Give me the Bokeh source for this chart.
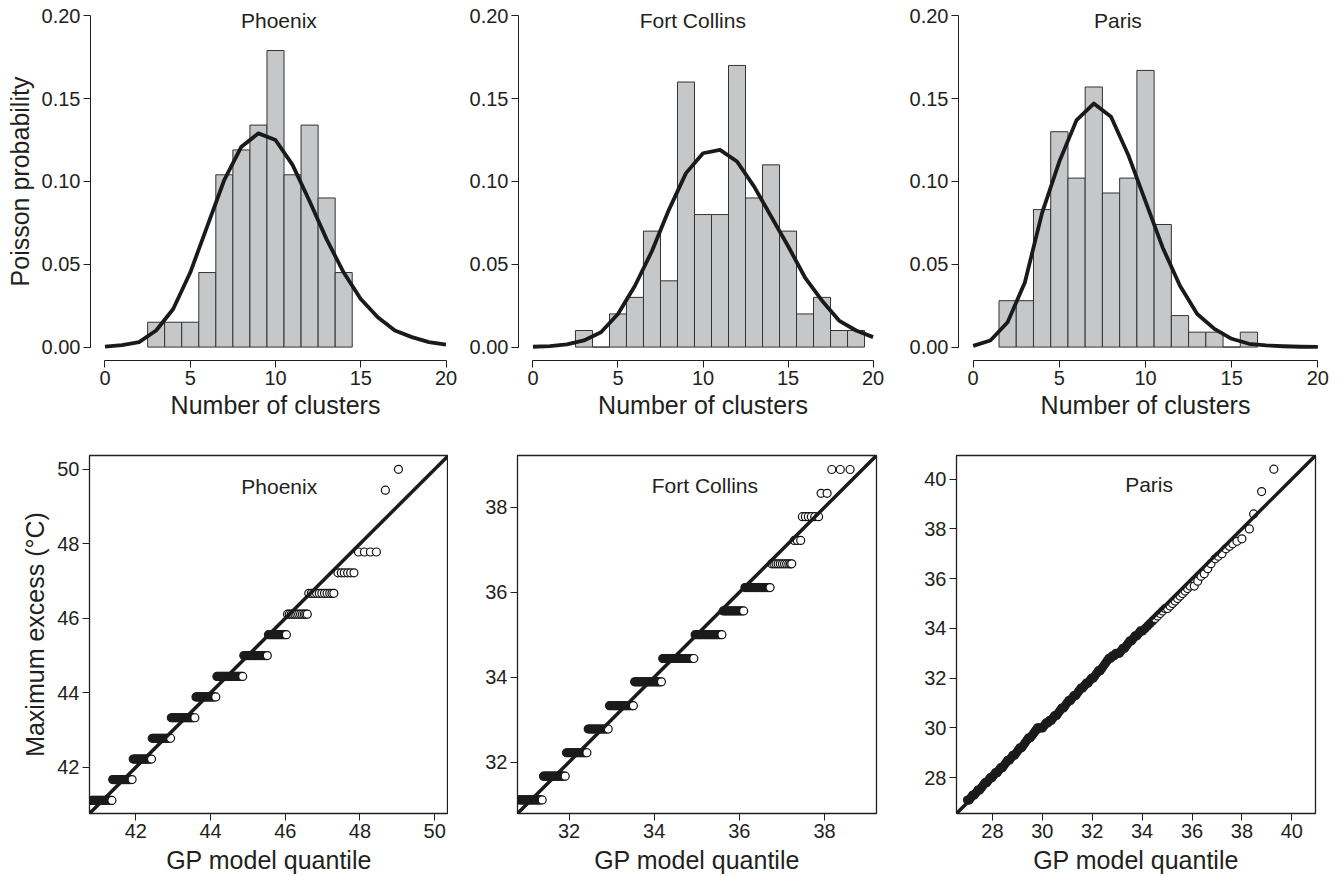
from bokeh.plotting import figure
from bokeh.layouts import column, row
from bokeh.models import FixedTicker, PrintfTickFormatter, Label, Slope
from bokeh.embed import file_html
from bokeh.resources import INLINE

FONT = "Liberation Sans"
INK = "#231f20"
DARK = "#1c1c1c"

# ---------------- top row: cluster counts ----------------
cluster_k = list(range(0, 21))

phx_bins = [3, 4, 5, 6, 7, 8, 9, 10, 11, 12, 13, 14]
phx_prob = [0.015, 0.015, 0.015, 0.045, 0.104, 0.119, 0.134, 0.179, 0.104, 0.134, 0.090, 0.045]
phx_pois = [0.0003, 0.0012, 0.003, 0.010, 0.023, 0.045, 0.073, 0.101, 0.121, 0.129, 0.125,
            0.110, 0.088, 0.065, 0.045, 0.029, 0.018, 0.010, 0.006, 0.003, 0.0015]

fc_bins = [3, 4, 5, 6, 7, 8, 9, 10, 11, 12, 13, 14, 15, 16, 17, 18, 19]
fc_prob = [0.01, 0.0, 0.02, 0.03, 0.07, 0.04, 0.16, 0.08, 0.08, 0.17, 0.09, 0.11, 0.07, 0.02, 0.03, 0.01, 0.01]
fc_pois = [0.0002, 0.0006, 0.0016, 0.004, 0.009, 0.020, 0.037, 0.058, 0.083, 0.105, 0.117,
           0.119, 0.112, 0.097, 0.079, 0.061, 0.042, 0.028, 0.016, 0.010, 0.006]

par_bins = [2, 3, 4, 5, 6, 7, 8, 9, 10, 11, 12, 13, 14, 15, 16]
par_prob = [0.028, 0.028, 0.083, 0.130, 0.102, 0.157, 0.093, 0.102, 0.167, 0.074, 0.019, 0.009, 0.009, 0.0, 0.009]
par_pois = [0.0007, 0.004, 0.015, 0.039, 0.081, 0.112, 0.137, 0.147, 0.139, 0.116, 0.088,
            0.060, 0.037, 0.020, 0.011, 0.005, 0.002, 0.001, 0.0005, 0.0002, 0.0001]

hist_xticks = [0, 5, 10, 15, 20]
hist_yticks = [0.0, 0.05, 0.10, 0.15, 0.20]

# ---------------- bottom row: QQ plots ----------------
phx_levels = [41.11, 41.67, 42.22, 42.78, 43.33, 43.89, 44.44, 45.00, 45.56, 46.11, 46.67, 47.22, 47.78, 49.44, 50.00]
phx_quant = [
    [40.82, 40.85, 40.88, 40.91, 40.94, 40.97, 41.00, 41.03, 41.06, 41.09, 41.12, 41.15, 41.18, 41.21, 41.24, 41.27, 41.30, 41.33, 41.36],
    [41.38, 41.41, 41.44, 41.47, 41.50, 41.53, 41.56, 41.59, 41.62, 41.65, 41.68, 41.71, 41.74, 41.77, 41.80, 41.83, 41.86, 41.90],
    [41.93, 41.96, 41.99, 42.02, 42.05, 42.08, 42.11, 42.14, 42.17, 42.20, 42.23, 42.26, 42.29, 42.32, 42.35, 42.38, 42.42],
    [42.44, 42.47, 42.50, 42.53, 42.56, 42.59, 42.62, 42.65, 42.68, 42.71, 42.74, 42.77, 42.80, 42.83, 42.86, 42.89, 42.93],
    [42.95, 42.98, 43.01, 43.04, 43.07, 43.10, 43.13, 43.16, 43.19, 43.22, 43.25, 43.28, 43.31, 43.34, 43.37, 43.40, 43.43, 43.46, 43.49, 43.52, 43.55, 43.58],
    [43.61, 43.64, 43.67, 43.70, 43.73, 43.76, 43.79, 43.82, 43.85, 43.88, 43.91, 43.94, 43.97, 44.00, 44.03, 44.06, 44.10, 44.14],
    [44.17, 44.20, 44.24, 44.27, 44.31, 44.34, 44.38, 44.41, 44.45, 44.48, 44.52, 44.55, 44.59, 44.62, 44.66, 44.69, 44.73, 44.76, 44.80, 44.83, 44.86],
    [44.89, 44.93, 44.97, 45.01, 45.05, 45.09, 45.13, 45.17, 45.21, 45.25, 45.29, 45.33, 45.37, 45.41, 45.45, 45.49, 45.52],
    [45.55, 45.59, 45.63, 45.67, 45.71, 45.75, 45.79, 45.83, 45.87, 45.91, 45.95, 45.99, 46.03],
    [46.06, 46.11, 46.16, 46.21, 46.26, 46.31, 46.36, 46.41, 46.46, 46.51, 46.55, 46.59],
    [46.63, 46.70, 46.77, 46.84, 46.91, 46.98, 47.05, 47.12, 47.19, 47.25, 47.30],
    [47.41, 47.50, 47.58, 47.67, 47.75, 47.84],
    [47.96, 48.12, 48.28, 48.44],
    [48.68],
    [49.03],
]

fc_levels = [31.11, 31.67, 32.22, 32.78, 33.33, 33.89, 34.44, 35.00, 35.56, 36.11, 36.67, 37.22, 37.78, 38.33, 38.89]
fc_quant = [
    [30.82, 30.85, 30.88, 30.91, 30.94, 30.97, 31.00, 31.03, 31.06, 31.09, 31.12, 31.15, 31.18, 31.21, 31.24, 31.27, 31.30, 31.33, 31.37],
    [31.40, 31.43, 31.46, 31.49, 31.52, 31.55, 31.58, 31.61, 31.64, 31.67, 31.70, 31.73, 31.76, 31.79, 31.82, 31.85, 31.88, 31.91],
    [31.94, 31.97, 32.00, 32.03, 32.06, 32.09, 32.12, 32.15, 32.18, 32.21, 32.24, 32.27, 32.30, 32.33, 32.36, 32.39, 32.42],
    [32.45, 32.48, 32.51, 32.54, 32.57, 32.60, 32.63, 32.66, 32.69, 32.72, 32.75, 32.78, 32.81, 32.84, 32.87, 32.90, 32.92],
    [32.95, 32.98, 33.01, 33.04, 33.07, 33.10, 33.13, 33.16, 33.19, 33.22, 33.25, 33.28, 33.31, 33.34, 33.37, 33.40, 33.43, 33.46, 33.49, 33.51],
    [33.54, 33.57, 33.60, 33.63, 33.66, 33.69, 33.72, 33.75, 33.78, 33.81, 33.84, 33.87, 33.90, 33.93, 33.96, 33.99, 34.02, 34.05, 34.08, 34.11, 34.14, 34.17],
    [34.20, 34.23, 34.27, 34.30, 34.34, 34.37, 34.41, 34.44, 34.48, 34.51, 34.55, 34.58, 34.62, 34.65, 34.69, 34.72, 34.76, 34.79, 34.83, 34.86, 34.90, 34.93],
    [34.96, 34.99, 35.03, 35.06, 35.10, 35.13, 35.17, 35.20, 35.24, 35.27, 35.31, 35.34, 35.38, 35.41, 35.45, 35.48, 35.52, 35.55, 35.59],
    [35.62, 35.66, 35.70, 35.74, 35.78, 35.82, 35.86, 35.90, 35.94, 35.98, 36.02, 36.06, 36.10],
    [36.13, 36.17, 36.21, 36.25, 36.29, 36.33, 36.37, 36.41, 36.45, 36.49, 36.53, 36.57, 36.61, 36.65, 36.69, 36.72],
    [36.76, 36.81, 36.86, 36.91, 36.96, 37.01, 37.06, 37.11, 37.16, 37.20, 37.23],
    [37.29, 37.36, 37.44],
    [37.48, 37.55, 37.62, 37.69, 37.77, 37.86],
    [37.92, 38.06],
    [38.17, 38.37, 38.60],
]

par_quant = [
    27.00, 27.07, 27.14, 27.21, 27.28, 27.35, 27.42, 27.49, 27.56, 27.63, 27.70, 27.77, 27.84, 27.91, 27.98,
    28.05, 28.12, 28.19, 28.26, 28.33, 28.40, 28.47, 28.54, 28.61, 28.68, 28.75, 28.82, 28.89, 28.96,
    29.03, 29.10, 29.17, 29.24, 29.31, 29.38, 29.45, 29.52, 29.59, 29.66, 29.73, 29.80, 29.87, 29.94,
    30.01, 30.08, 30.15, 30.22, 30.29, 30.36, 30.43, 30.50, 30.57, 30.64, 30.71, 30.78, 30.85, 30.92, 30.99,
    31.06, 31.13, 31.20, 31.27, 31.34, 31.41, 31.48, 31.55, 31.62, 31.69, 31.76, 31.83, 31.90, 31.97,
    32.04, 32.11, 32.18, 32.25, 32.32, 32.39, 32.46, 32.53, 32.60, 32.67, 32.74, 32.81, 32.88, 32.95,
    33.02, 33.09, 33.16, 33.23, 33.30, 33.37, 33.44, 33.51, 33.58, 33.65, 33.72, 33.79, 33.86, 33.93,
    34.02, 34.12, 34.22, 34.32, 34.42, 34.52, 34.62, 34.72, 34.82, 34.92,
    35.02, 35.12, 35.22, 35.32, 35.42, 35.52, 35.62, 35.72, 35.82, 35.92,
    36.09, 36.23, 36.36, 36.49, 36.63, 36.76, 36.93, 37.05, 37.20, 37.36, 37.50, 37.63, 37.80, 38.00, 38.30, 38.47, 38.79, 39.28,
]
par_obs = [
    27.1, 27.1, 27.2, 27.3, 27.3, 27.4, 27.5, 27.5, 27.6, 27.7, 27.8, 27.8, 27.9, 28.0, 28.0,
    28.1, 28.2, 28.2, 28.3, 28.4, 28.4, 28.5, 28.6, 28.7, 28.7, 28.8, 28.9, 28.9, 29.0,
    29.1, 29.2, 29.2, 29.3, 29.4, 29.5, 29.6, 29.6, 29.7, 29.8, 29.9, 30.0, 30.0, 30.0,
    30.0, 30.1, 30.2, 30.2, 30.3, 30.3, 30.4, 30.5, 30.5, 30.6, 30.7, 30.8, 30.8, 30.9, 31.0,
    31.1, 31.1, 31.2, 31.3, 31.3, 31.4, 31.5, 31.6, 31.6, 31.7, 31.8, 31.8, 31.9, 32.0,
    32.0, 32.1, 32.2, 32.3, 32.3, 32.4, 32.5, 32.6, 32.7, 32.8, 32.8, 32.9, 32.9, 33.0,
    33.0, 33.0, 33.1, 33.2, 33.2, 33.3, 33.4, 33.5, 33.5, 33.6, 33.7, 33.7, 33.8, 33.9,
    33.9, 34.0, 34.1, 34.2, 34.3, 34.4, 34.5, 34.6, 34.7, 34.8,
    34.8, 34.9, 35.0, 35.1, 35.2, 35.3, 35.4, 35.5, 35.6, 35.7,
    35.7, 35.9, 36.1, 36.2, 36.4, 36.6, 36.8, 36.9, 37.0, 37.2, 37.3, 37.4, 37.5, 37.6, 38.0, 38.6, 39.5, 40.4,
]

phx_ticks = [42, 44, 46, 48, 50]
fc_ticks = [32, 34, 36, 38]
par_ticks = [28, 30, 32, 34, 36, 38, 40]


def split_bands(levels, quant, n_dense):
    """Overlapping circles in the crowded bands merge into solid dark bars;
    the last circle of every band stays open (white)."""
    dx, dy, ox, oy = [], [], [], []
    for i, (lv, qs) in enumerate(zip(levels, quant)):
        if i < n_dense:
            dx.extend(qs[:-1])
            dy.extend([lv] * (len(qs) - 1))
            ox.append(qs[-1])
            oy.append(lv)
        else:
            ox.extend(qs)
            oy.extend([lv] * len(qs))
    return dx, dy, ox, oy


def split_cut(xs, ys, cut):
    dx = [x for x in xs if x < cut]
    dy = [y for x, y in zip(xs, ys) if x < cut]
    ox = [x for x in xs if x >= cut]
    oy = [y for x, y in zip(xs, ys) if x >= cut]
    return dx, dy, ox, oy


def base_axes(p, ylabel):
    for ax in (p.xaxis[0], p.yaxis[0]):
        ax.major_label_text_font = FONT
        ax.major_label_text_font_size = "20px"
        ax.major_label_text_color = INK
        ax.axis_label_text_font = FONT
        ax.axis_label_text_font_size = "25px"
        ax.axis_label_text_font_style = "normal"
        ax.axis_label_text_color = INK
        ax.major_tick_line_color = INK
        ax.major_tick_line_width = 1
        ax.major_tick_out = 7
        ax.major_tick_in = 0
        ax.minor_tick_line_color = None
        ax.axis_line_color = INK
        ax.axis_line_width = 1
        ax.major_label_standoff = 3
    if ylabel:
        p.yaxis.axis_label = ylabel
        p.yaxis.axis_label_standoff = 5
    p.grid.visible = False
    p.background_fill_color = "white"
    p.border_fill_color = "white"


def hist_panel(title, bins, prob, pois, tx, ylabel, fw, bl, br):
    p = figure(frame_width=fw, frame_height=358, min_border_left=bl, min_border_right=br,
               min_border_top=2, min_border_bottom=62,
               x_range=(-0.85, 20.85), y_range=(-0.0081, 0.208),
               output_backend="svg", toolbar_location=None)
    p.vbar(x=bins, top=prob, width=1.0, fill_color="#c6c7c9", line_color="#333333", line_width=1)
    p.line(cluster_k, pois, line_color="#1a1a1a", line_width=3.8, line_join="round")
    base_axes(p, ylabel)
    p.outline_line_color = None
    p.xaxis.axis_label = "Number of clusters"
    p.xaxis.axis_label_standoff = 3
    p.xaxis.ticker = FixedTicker(ticks=hist_xticks)
    p.yaxis.ticker = FixedTicker(ticks=hist_yticks)
    p.yaxis.formatter = PrintfTickFormatter(format="%.2f")
    p.xaxis.bounds = (hist_xticks[0], hist_xticks[-1])
    p.yaxis.bounds = (hist_yticks[0], hist_yticks[-1])
    p.add_layout(Label(x=tx, y=0.197, text=title, text_align="center", text_baseline="middle",
                       text_font=FONT, text_font_size="21px", text_color=INK))
    return p


def qq_panel(title, pts, lo, hi, ticks, tpos, ylabel, bl, br):
    dx, dy, ox, oy = pts
    p = figure(frame_width=359, frame_height=358, min_border_left=bl, min_border_right=br,
               min_border_top=33, min_border_bottom=63,
               x_range=(lo, hi), y_range=(lo, hi),
               output_backend="svg", toolbar_location=None)
    p.scatter(dx, dy, marker="circle", size=8, fill_color=DARK, line_color=DARK, line_width=1.2)
    p.scatter(ox, oy, marker="circle", size=8, fill_color="white", line_color="#111111", line_width=1.2)
    p.add_layout(Slope(gradient=1, y_intercept=0, line_color="#1a1a1a", line_width=3.5))
    base_axes(p, ylabel)
    p.xaxis.axis_line_color = None
    p.yaxis.axis_line_color = None
    p.outline_line_color = INK
    p.outline_line_width = 1.3
    p.xaxis.axis_label = "GP model quantile"
    p.xaxis.axis_label_standoff = 5
    p.xaxis.ticker = FixedTicker(ticks=ticks)
    p.yaxis.ticker = FixedTicker(ticks=ticks)
    p.add_layout(Label(x=tpos[0], y=tpos[1], text=title, text_align="center", text_baseline="middle",
                       text_font=FONT, text_font_size="21px", text_color=INK))
    return p


h1 = hist_panel("Phoenix", phx_bins, phx_prob, phx_pois, 10.2, "Poisson probability", 370, 90, 0)
h2 = hist_panel("Fort Collins", fc_bins, fc_prob, fc_pois, 9.4, None, 369, 58, 13)
h3 = hist_panel("Paris", par_bins, par_prob, par_pois, 8.4, None, 374, 58, 8)

q1 = qq_panel("Phoenix", split_bands(phx_levels, phx_quant, 9), 40.76, 50.37, phx_ticks,
              (45.84, 49.55), "Maximum excess (°C)", 89, 0)
q2 = qq_panel("Fort Collins", split_bands(fc_levels, fc_quant, 10), 30.79, 39.22, fc_ticks,
              (35.19, 38.51), None, 69, 25)
q3 = qq_panel("Paris", split_cut(par_quant, par_obs, 34.5), 26.56, 40.95, par_ticks,
              (34.28, 39.80), None, 55, 20)

layout = column(row(h1, h2, h3), row(q1, q2, q3))
open("out.html", "w").write(file_html(layout, INLINE))
